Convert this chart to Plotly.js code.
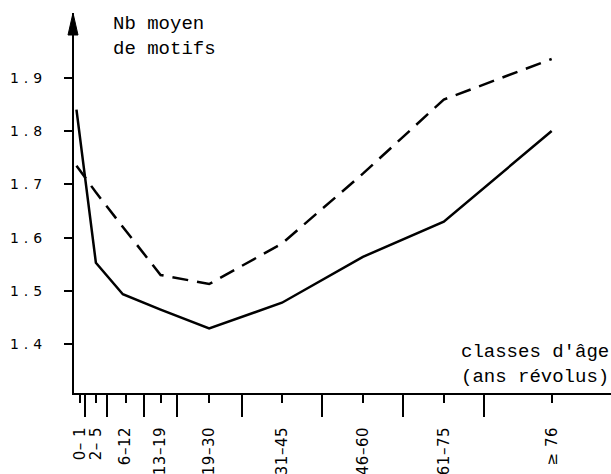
<!DOCTYPE html>
<html><head><meta charset="utf-8">
<script src="https://cdn.plot.ly/plotly-3.0.1.min.js"></script>
<style>
html,body{margin:0;padding:0;background:#fff;}
#chart{width:611px;height:474px;}
.ytick text{letter-spacing:5px;}
.xtick text{letter-spacing:0.5px;}
</style></head><body><div id="chart"></div>
<script>
// Data
const classLabels = ["0– 1","2– 5","6–12","13–19","19–30","31–45","46–60","61–75","≥ 76"];
const classMidAges = [1, 4, 9.5, 16, 25, 38.5, 53.5, 68.5, 88.5];
const classBoundaries = [2, 6, 13, 19, 31, 46, 61, 76];
const pointAges = [0.4, 4, 9, 16, 25, 38.5, 53.5, 68.5, 88.5];
const solidSeries = [1.84, 1.553, 1.494, 1.465, 1.430, 1.478, 1.564, 1.630, 1.800];
const dashedSeries = [1.735, 1.685, 1.62, 1.530, 1.513, 1.589, 1.72, 1.859, 1.935];
const yTickVals = [1.4, 1.5, 1.6, 1.7, 1.8, 1.9];
const yTickText = ["1.4", "1.5", "1.6", "1.7", "1.8", "1.9"];

const M = {l: 74, r: 0, t: 13, b: 81};
const W = 611 - M.l - M.r, H = 474 - M.t - M.b;

const traces = [
  {x: pointAges, y: solidSeries, mode: 'lines', line: {color: '#000', width: 2.5}, hoverinfo: 'skip'},
  {x: pointAges, y: dashedSeries, mode: 'lines', line: {color: '#000', width: 2.5, dash: '16px,9px'}, hoverinfo: 'skip'}
];

const xTickFont = {family: 'DejaVu Sans, sans-serif', size: 15, color: '#000'};
const yTickFont = {family: 'DejaVu Sans, sans-serif', size: 14, color: '#000'};
const monoFont = {family: 'Liberation Mono, monospace', size: 19, color: '#000'};

const layout = {
  width: 611, height: 474,
  margin: {l: M.l, r: M.r, t: M.t, b: M.b, pad: 0},
  paper_bgcolor: '#fff', plot_bgcolor: '#fff',
  showlegend: false,
  xaxis: {
    range: [-0.056, 99.5], tickmode: 'array', tickvals: classMidAges, ticktext: classLabels,
    tickangle: -90, ticks: 'outside', ticklen: 8, tickwidth: 2, tickcolor: '#000',
    showline: true, linewidth: 2, linecolor: '#000', showgrid: false, zeroline: false,
    tickfont: xTickFont, ticklabelstandoff: 18, automargin: false,
    minor: {tickmode: 'array', tickvals: classBoundaries, ticks: 'outside', ticklen: 22, tickwidth: 2, tickcolor: '#000', showgrid: false}
  },
  yaxis: {
    range: [1.3087, 2.0213], tickmode: 'array', tickvals: yTickVals, ticktext: yTickText,
    ticks: 'outside', ticklen: 8, tickwidth: 2, tickcolor: '#000',
    showline: true, linewidth: 2, linecolor: '#000', showgrid: false, zeroline: false,
    tickfont: yTickFont, ticklabelstandoff: 14, automargin: false
  },
  shapes: [{
    type: 'path', xref: 'paper', yref: 'paper',
    path: `M ${-6/W},${1-22/H} L ${-1/W},1 L ${4/W},${1-22/H} Z`,
    fillcolor: '#000', line: {color: '#000', width: 1}
  }],
  annotations: [
    {text: 'Nb moyen<br>de motifs', xref: 'paper', yref: 'paper', x: (111 - M.l) / W, y: (393 - 37) / H,
     xanchor: 'left', yanchor: 'middle', align: 'left', showarrow: false, font: monoFont},
    {text: "classes d'âge<br>(ans révolus)", xref: 'paper', yref: 'paper', x: 1, y: (393 - 364) / H,
     xanchor: 'right', yanchor: 'middle', align: 'left', showarrow: false, font: monoFont}
  ]
};

Plotly.newPlot('chart', traces, layout, {staticPlot: true, displayModeBar: false});
</script></body></html>
